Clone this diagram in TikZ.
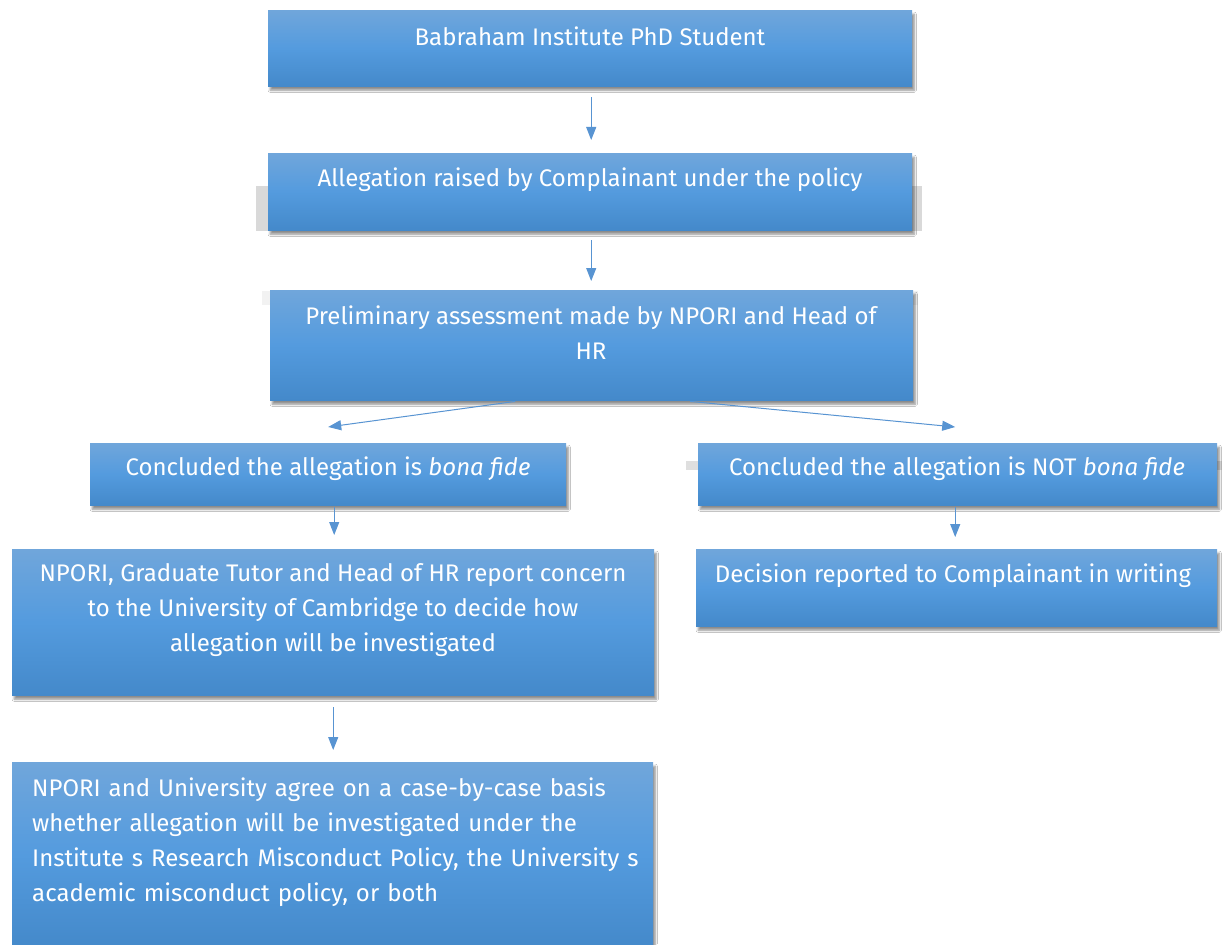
\documentclass[tikz,border=0pt]{standalone}
\usepackage{fontspec}
\setmainfont{Fira Sans}
\usetikzlibrary{arrows.meta,calc,shadows.blur}
\definecolor{boxtop}{RGB}{112,166,219}
\definecolor{boxmid}{RGB}{84,155,222}
\definecolor{boxbot}{RGB}{68,137,202}
\definecolor{arr}{RGB}{88,148,210}
\tikzset{
  box/.style={anchor=north west, inner sep=0pt, draw=none,
    top color=boxtop, bottom color=boxbot, middle color=boxmid,
    blur shadow={shadow xshift=2pt, shadow yshift=-4pt, shadow blur steps=6, shadow opacity=45}},
  txt/.style={text=white, inner sep=0pt, font=\fontsize{24}{35}\selectfont, align=center},
  conn/.style={draw=arr, line width=1pt, -{Triangle[width=10pt,length=13pt]}},
}
\begin{document}
\begin{tikzpicture}[x=1pt,y=-1pt]
\useasboundingbox[fill=white] (0,0) rectangle (1222,944);
% faint grey bands behind boxes
\fill[gray!30] (256,186) rectangle (922,231);
\fill[gray!10] (262,291) rectangle (918,305);
\fill[gray!25] (686,461) rectangle (1222,470);
% boxes
\node[box, minimum width=644pt, minimum height=76pt] (b1) at (268,10) {};
\node[box, minimum width=644pt, minimum height=77pt] (b2) at (268,153) {};
\node[box, minimum width=643pt, minimum height=110pt] (b3) at (270,290) {};
\node[box, minimum width=476pt, minimum height=62pt] (b4) at (90,443) {};
\node[box, minimum width=519pt, minimum height=62pt] (b5) at (698,443) {};
\node[box, minimum width=642pt, minimum height=146pt] (b6) at (12,549) {};
\node[box, minimum width=521pt, minimum height=77pt] (b7) at (696,549) {};
\node[box, minimum width=641pt, minimum height=185pt] (b8) at (12,762) {};
% texts
\node[txt] (t1) at (590,36) {Babraham Institute PhD Student};
\node[txt] (t2) at (590,180) {Allegation raised by Complainant under the policy};
\node[txt] (t3) at (591,332.5) {Preliminary assessment made by NPORI and Head of\\HR};
\node[txt] (t4) at (328,469) {Concluded the allegation is \textit{bona fide}};
\node[txt] (t5) at (957,469) {Concluded the allegation is NOT \textit{bona fide}};
\node[txt] (t6) at (333,610) {NPORI, Graduate Tutor and Head of HR report concern\\to the University of Cambridge to decide how\\allegation will be investigated};
\node[txt] (t7) at (953,576) {Decision reported to Complainant in writing};
\node[txt, anchor=west, align=left, text width=615pt] (t8) at (32,842.5) {NPORI and University agree on a case-by-case basis\\whether allegation will be investigated under the\\Institute s Research Misconduct Policy, the University s\\academic misconduct policy, or both};
% connectors
\draw[conn] ($(b1.south)+(1,11)$) -- ($(b2.north)+(1,-13)$);
\draw[conn] ($(b2.south)+(1,10)$) -- ($(b3.north)+(-0.5,-9)$);
\draw[conn] ($(b3.south)+(-76.5,1)$) -- ($(b4.north)+(0,-16)$);
\draw[conn] ($(b3.south)+(98.5,1)$) -- ($(b5.north)+(-2.5,-16)$);
\draw[conn] ($(b4.south)+(6,2)$) -- ($(b6.north)+(1,-14)$);
\draw[conn] ($(b5.south)+(-2.5,2)$) -- ($(b7.north)+(-1.5,-12)$);
\draw[conn] ($(b6.south)+(0,12)$) -- ($(b8.north)+(0.5,-12)$);
\end{tikzpicture}
\end{document}
